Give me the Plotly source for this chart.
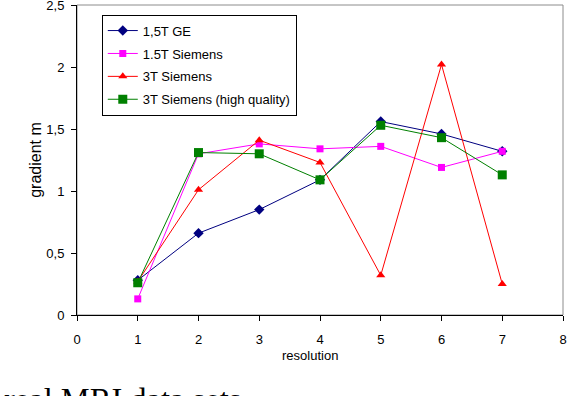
import plotly.graph_objects as go

resolution = [1, 2, 3, 4, 5, 6, 7]
ge_15t = [0.28, 0.66, 0.85, 1.09, 1.56, 1.46, 1.32]
siemens_15t = [0.13, 1.30, 1.38, 1.34, 1.36, 1.19, 1.32]
siemens_3t = [0.27, 1.01, 1.41, 1.23, 0.32, 2.02, 0.25]
siemens_3t_hq = [0.26, 1.31, 1.30, 1.09, 1.53, 1.43, 1.13]

y_ticks = [0, 0.5, 1, 1.5, 2, 2.5]
x_ticks = [0, 1, 2, 3, 4, 5, 6, 7, 8]

FONT = "Liberation Sans, Arial, sans-serif"

series = [
    ("1,5T GE", ge_15t, "#000080", "diamond", 8),
    ("1.5T Siemens", siemens_15t, "#FF00FF", "square", 7),
    ("3T Siemens", siemens_3t, "#FF0000", "triangle-up", 8),
    ("3T Siemens (high quality)", siemens_3t_hq, "#008000", "square", 9),
]

fig = go.Figure()
for name, vals, color, symbol, size in series:
    fig.add_trace(go.Scatter(
        x=resolution, y=vals, name=name, legendgroup=name,
        mode="lines+markers",
        line=dict(color=color, width=1),
        marker=dict(color=color, symbol=symbol, size=size, line=dict(width=0)),
    ))

# grey plot-area frame (top and right edges visible)
fig.add_shape(type="rect", xref="paper", yref="paper", x0=0, x1=1, y0=0, y1=1,
              line=dict(color="#8c8c8c", width=1), layer="below")

fig.add_annotation(text="resolution", xref="paper", yref="paper",
                   x=0.479, y=-0.131, xanchor="center", yanchor="middle",
                   showarrow=False, font=dict(size=13))

fig.add_annotation(text="real MRI data sets", xref="paper", yref="paper",
                   x=-0.154, y=-0.206, xanchor="left", yanchor="top",
                   showarrow=False,
                   font=dict(family="Liberation Serif, Times New Roman, serif",
                             size=32.5, color="black"))

fig.update_layout(
    width=568, height=396,
    margin=dict(l=77, r=5, t=5, b=81),
    paper_bgcolor="white", plot_bgcolor="white",
    separators=", ",
    font=dict(family=FONT, size=13, color="black"),
    legend=dict(
        x=0.051, y=0.969, xanchor="left", yanchor="top",
        bordercolor="black", borderwidth=1, bgcolor="white",
        tracegroupgap=3, font=dict(size=13),
    ),
    xaxis=dict(
        range=[0, 8], tickvals=x_ticks, showgrid=False, zeroline=False,
        showline=True, linecolor="black", linewidth=1,
        ticks="outside", ticklen=5, tickcolor="black",
        automargin=False, ticklabeloverflow="allow", ticklabelstandoff=7,
    ),
    yaxis=dict(
        range=[0, 2.5], tickvals=y_ticks, showgrid=False, zeroline=False,
        showline=True, linecolor="black", linewidth=1,
        ticks="outside", ticklen=5, tickcolor="black",
        automargin=False, ticklabeloverflow="allow", ticklabelstandoff=4,
        title=dict(text="gradient m", standoff=0),
    ),
)

# drop the browser's default body margin so the figure sits at (0, 0)
fig.write_html("out.html", config={"displayModeBar": False},
               post_script="document.body.style.margin='0';")
